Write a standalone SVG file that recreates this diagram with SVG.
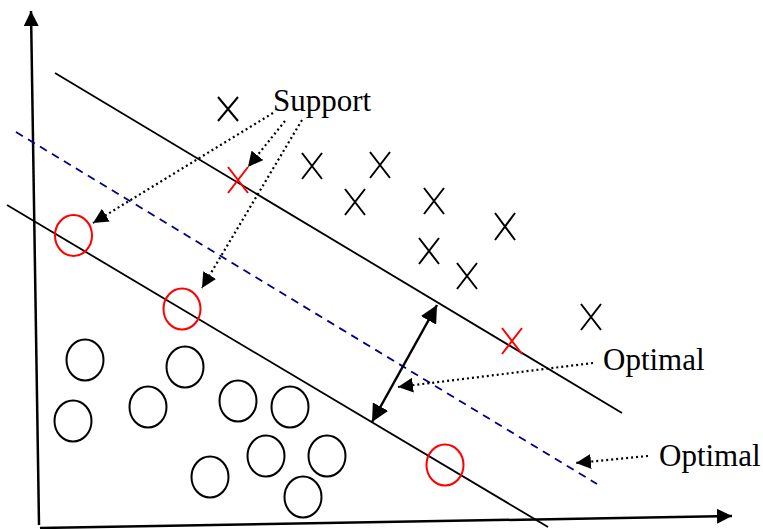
<svg xmlns="http://www.w3.org/2000/svg" width="763" height="529" viewBox="0 0 763 529">
<defs>
<marker id="ah" viewBox="0 0 10 10" refX="10" refY="5" markerWidth="15" markerHeight="15" markerUnits="userSpaceOnUse" orient="auto"><path d="M0,0 L10,5 L0,10 z" fill="#000"/></marker>
<marker id="ahs" viewBox="0 0 10 10" refX="10" refY="5" markerWidth="7" markerHeight="7" orient="auto-start-reverse"><path d="M0,0 L10,5 L0,10 z" fill="#000"/></marker>
<marker id="ax" viewBox="0 0 10 10" refX="10" refY="5" markerWidth="15" markerHeight="15" markerUnits="userSpaceOnUse" orient="auto"><path d="M0,0 L10,5 L0,10 z" fill="#000"/></marker>
</defs>
<style>
.ln{stroke:#000;stroke-width:1.8;fill:none}
.ax{stroke:#000;stroke-width:2.5;fill:none}
.dash{stroke:#00008B;stroke-width:1.8;stroke-dasharray:8,6;fill:none}
.dot{stroke:#000;stroke-width:2.2;stroke-dasharray:2,3;fill:none}
.c{fill:none;stroke:#000;stroke-width:2}
.r{fill:none;stroke:#f00;stroke-width:2}
.xb{stroke:#000;stroke-width:2;fill:none}
.xr{stroke:#f00;stroke-width:2;fill:none}
text{font-family:"Liberation Serif","Times New Roman",serif;font-size:31px;fill:#000}
</style>
<g id="axes">
<line class="ax" x1="39" y1="525" x2="31" y2="11" marker-end="url(#ax)"/>
<line class="ax" x1="40" y1="528" x2="732" y2="516" marker-end="url(#ax)"/>
</g>
<g id="lines">
<line class="ln" x1="55" y1="73" x2="622" y2="413"/>
<line class="ln" x1="7" y1="205" x2="548" y2="527"/>
<line class="dash" x1="16" y1="132" x2="597" y2="484"/>
</g>
<g id="crosses">
<path class="xb" d="M218,97 L238,121 M238,97 L218,121"/>
<path class="xb" d="M302,153 L322,179 M322,153 L302,179"/>
<path class="xb" d="M370,152 L390,178 M390,152 L370,178"/>
<path class="xb" d="M345,189 L365,215 M365,189 L345,215"/>
<path class="xb" d="M424,188 L444,214 M444,188 L424,214"/>
<path class="xb" d="M495,213 L515,240 M515,213 L495,240"/>
<path class="xb" d="M419,238 L439,264 M439,238 L419,264"/>
<path class="xb" d="M457,263 L477,289 M477,263 L457,289"/>
<path class="xb" d="M581,304 L601,330 M601,304 L581,330"/>
<path class="xr" d="M228,167 L248,193 M248,167 L228,193"/>
<path class="xr" d="M502,328 L522,354 M522,328 L502,354"/>
</g>
<g id="circles">
<ellipse class="r" cx="73.5" cy="235.5" rx="18.5" ry="20.5"/>
<ellipse class="r" cx="182" cy="309" rx="18.5" ry="20.5"/>
<ellipse class="r" cx="445" cy="465" rx="18.5" ry="20.5"/>
<ellipse class="c" cx="85" cy="360" rx="18.5" ry="20.5"/>
<ellipse class="c" cx="73" cy="421" rx="18.5" ry="20.5"/>
<ellipse class="c" cx="185" cy="367" rx="18.5" ry="20.5"/>
<ellipse class="c" cx="148" cy="407" rx="18.5" ry="20.5"/>
<ellipse class="c" cx="238" cy="401" rx="18.5" ry="20.5"/>
<ellipse class="c" cx="290" cy="407" rx="18.5" ry="20.5"/>
<ellipse class="c" cx="266" cy="456" rx="18.5" ry="20.5"/>
<ellipse class="c" cx="327" cy="456" rx="18.5" ry="20.5"/>
<ellipse class="c" cx="210" cy="477" rx="18.5" ry="20.5"/>
<ellipse class="c" cx="303" cy="497" rx="18.5" ry="20.5"/>
</g>
<g id="connectors">
<line class="dot" x1="273" y1="113" x2="93" y2="223" marker-end="url(#ah)"/>
<line class="dot" x1="285" y1="121" x2="248" y2="167" marker-end="url(#ah)"/>
<line class="dot" x1="302" y1="120" x2="202" y2="288" marker-end="url(#ah)"/>
<line class="dot" x1="593" y1="363" x2="398" y2="387" marker-end="url(#ah)"/>
<line class="dot" x1="648" y1="456" x2="576" y2="463" marker-end="url(#ah)"/>
<line stroke="#000" stroke-width="2.5" x1="372" y1="422" x2="437" y2="305" marker-start="url(#ahs)" marker-end="url(#ahs)"/>
</g>
<g id="labels">
<text x="273" y="111">Support</text>
<text x="603" y="370">Optimal</text>
<text x="659" y="466">Optimal</text>
</g>
</svg>
